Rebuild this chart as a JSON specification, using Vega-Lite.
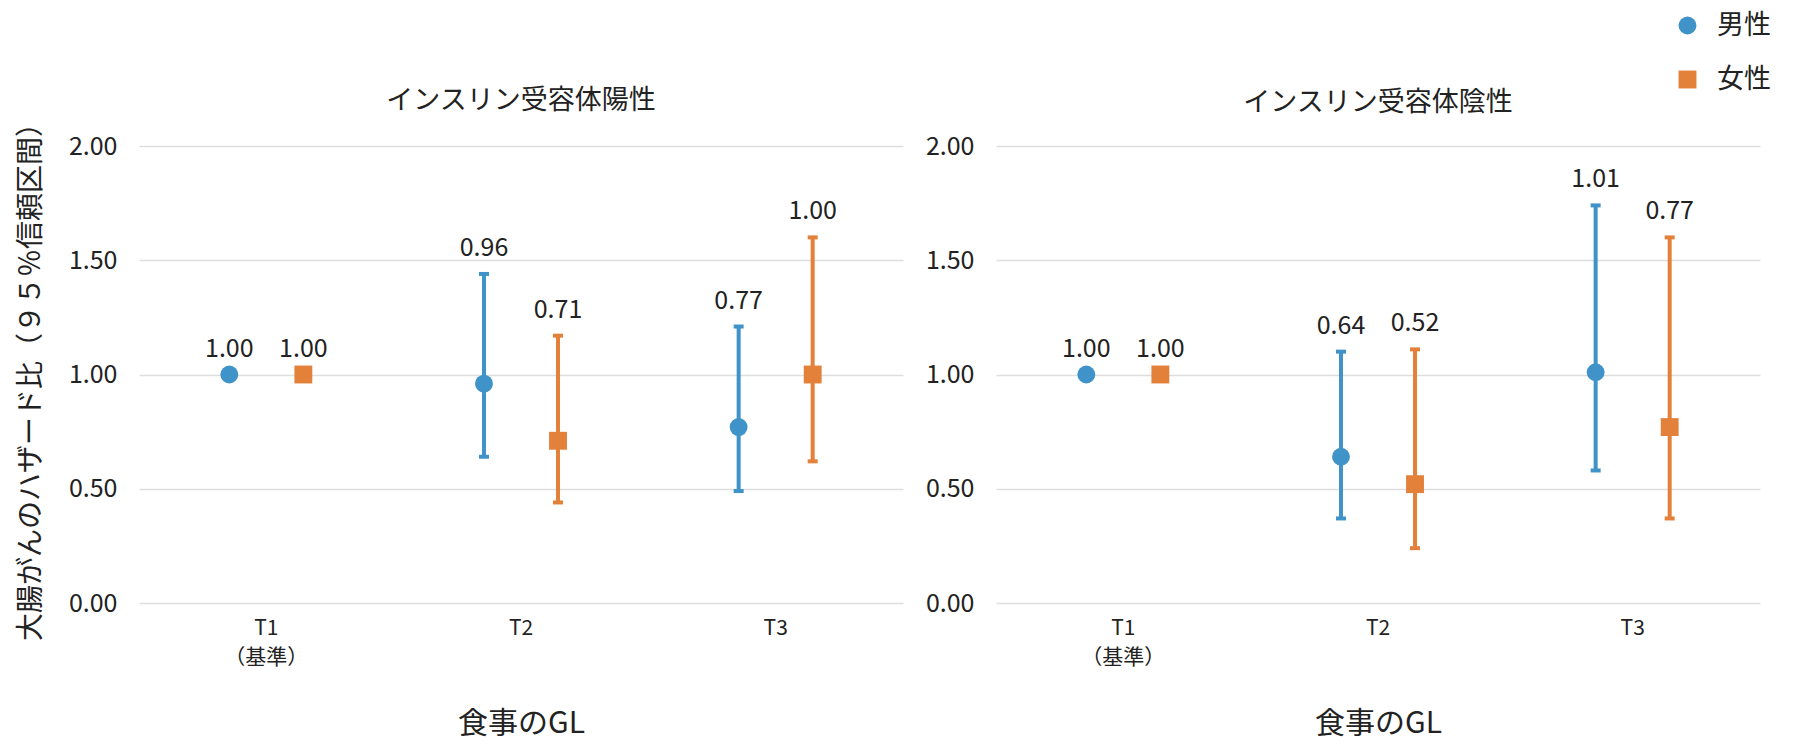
{
  "$schema": "https://vega.github.io/schema/vega-lite/v6.json",
  "padding": {"left": 17, "top": 12, "right": 5, "bottom": 5},
  "config": {
    "font": "Noto Sans CJK JP",
    "view": {"stroke": null},
    "axis": {
      "labelColor": "#222222",
      "titleColor": "#222222",
      "titleFontWeight": "normal",
      "domain": false,
      "ticks": false,
      "tickSize": 0,
      "gridColor": "#dedede",
      "gridWidth": 1.5
    },
    "axisX": {"grid": false, "labelAngle": 0, "labelFontSize": 21, "labelLineHeight": 29, "labelPadding": 14, "titleFontSize": 30, "titlePadding": 41},
    "axisY": {"labelFontSize": 25, "labelPadding": 22, "titleFontSize": 28, "titlePadding": 23},
    "title": {"fontSize": 27, "fontWeight": "normal", "color": "#222222", "frame": "group"},
    "legend": {"labelFontSize": 27, "labelColor": "#222222", "symbolSize": 320, "rowPadding": 26, "labelOffset": 16, "symbolStrokeWidth": 0, "symbolOpacity": 1},
    "concat": {"spacing": 22}
  },
  "data": {
    "values": [
      {"panel": "陽性", "tertile": "T1", "sex": "男性", "hr": 1.00, "lower": 1.00, "upper": 1.00},
      {"panel": "陽性", "tertile": "T1", "sex": "女性", "hr": 1.00, "lower": 1.00, "upper": 1.00},
      {"panel": "陽性", "tertile": "T2", "sex": "男性", "hr": 0.96, "lower": 0.64, "upper": 1.44},
      {"panel": "陽性", "tertile": "T2", "sex": "女性", "hr": 0.71, "lower": 0.44, "upper": 1.17},
      {"panel": "陽性", "tertile": "T3", "sex": "男性", "hr": 0.77, "lower": 0.49, "upper": 1.21},
      {"panel": "陽性", "tertile": "T3", "sex": "女性", "hr": 1.00, "lower": 0.62, "upper": 1.60},
      {"panel": "陰性", "tertile": "T1", "sex": "男性", "hr": 1.00, "lower": 1.00, "upper": 1.00},
      {"panel": "陰性", "tertile": "T1", "sex": "女性", "hr": 1.00, "lower": 1.00, "upper": 1.00},
      {"panel": "陰性", "tertile": "T2", "sex": "男性", "hr": 0.64, "lower": 0.37, "upper": 1.10},
      {"panel": "陰性", "tertile": "T2", "sex": "女性", "hr": 0.52, "lower": 0.24, "upper": 1.11},
      {"panel": "陰性", "tertile": "T3", "sex": "男性", "hr": 1.01, "lower": 0.58, "upper": 1.74},
      {"panel": "陰性", "tertile": "T3", "sex": "女性", "hr": 0.77, "lower": 0.37, "upper": 1.60}
    ]
  },
  "hconcat": [
    {
      "title": {"text": "インスリン受容体陽性", "offset": -7},
      "width": 764,
      "height": 457,
      "transform": [{"filter": "datum.panel == '陽性'"}],
      "encoding": {
        "x": {"field": "tertile", "type": "nominal", "sort": ["T1", "T2", "T3"], "scale": {"paddingInner": 0, "paddingOuter": 0}, "axis": {"title": "食事のGL", "labelExpr": "datum.value == 'T1' ? ['T1', '（基準）'] : datum.value"}},
        "xOffset": {"field": "sex", "type": "nominal", "sort": ["男性", "女性"], "scale": {"paddingInner": 0, "paddingOuter": 0.72}},
        "color": {"field": "sex", "type": "nominal", "scale": {"domain": ["男性", "女性"], "range": ["#3F93C8", "#E3813B"]}, "legend": {"title": null, "orient": "none", "legendX": 1535, "legendY": -134}}
      },
      "layer": [
        {"mark": {"type": "rule", "strokeWidth": 4, "opacity": 1}, "encoding": {"y": {"field": "lower", "type": "quantitative", "title": "大腸がんのハザード比（９５％信頼区間）", "scale": {"domain": [0, 2]}, "axis": {"values": [0, 0.5, 1, 1.5, 2], "format": ".2f"}}, "y2": {"field": "upper"}}},
        {"mark": {"type": "tick", "thickness": 4, "size": 10, "orient": "horizontal", "opacity": 1}, "encoding": {"y": {"field": "upper", "type": "quantitative", "title": "大腸がんのハザード比（９５％信頼区間）", "axis": {"values": [0, 0.5, 1, 1.5, 2], "format": ".2f"}}}},
        {"mark": {"type": "tick", "thickness": 4, "size": 10, "orient": "horizontal", "opacity": 1}, "encoding": {"y": {"field": "lower", "type": "quantitative", "title": "大腸がんのハザード比（９５％信頼区間）", "axis": {"values": [0, 0.5, 1, 1.5, 2], "format": ".2f"}}}},
        {"mark": {"type": "point", "filled": true, "size": 320, "opacity": 1}, "encoding": {"y": {"field": "hr", "type": "quantitative", "title": "大腸がんのハザード比（９５％信頼区間）", "axis": {"values": [0, 0.5, 1, 1.5, 2], "format": ".2f"}}, "shape": {"field": "sex", "type": "nominal", "scale": {"domain": ["男性", "女性"], "range": ["circle", "square"]}, "legend": {"title": null, "orient": "none", "legendX": 1535, "legendY": -134}}}},
        {"mark": {"type": "text", "dy": -18, "baseline": "alphabetic", "fontSize": 25, "color": "#222222"}, "encoding": {"y": {"field": "upper", "type": "quantitative", "title": "大腸がんのハザード比（９５％信頼区間）", "axis": {"values": [0, 0.5, 1, 1.5, 2], "format": ".2f"}}, "text": {"field": "hr", "type": "quantitative", "format": ".2f"}, "color": {"value": "#222222"}}}
      ]
    },
    {
      "title": {"text": "インスリン受容体陰性", "offset": 17},
      "width": 764,
      "height": 457,
      "transform": [{"filter": "datum.panel == '陰性'"}],
      "encoding": {
        "x": {"field": "tertile", "type": "nominal", "sort": ["T1", "T2", "T3"], "scale": {"paddingInner": 0, "paddingOuter": 0}, "axis": {"title": "食事のGL", "labelExpr": "datum.value == 'T1' ? ['T1', '（基準）'] : datum.value"}},
        "xOffset": {"field": "sex", "type": "nominal", "sort": ["男性", "女性"], "scale": {"paddingInner": 0, "paddingOuter": 0.72}},
        "color": {"field": "sex", "type": "nominal", "scale": {"domain": ["男性", "女性"], "range": ["#3F93C8", "#E3813B"]}, "legend": {"title": null, "orient": "none", "legendX": 1535, "legendY": -134}}
      },
      "layer": [
        {"mark": {"type": "rule", "strokeWidth": 4, "opacity": 1}, "encoding": {"y": {"field": "lower", "type": "quantitative", "title": null, "scale": {"domain": [0, 2]}, "axis": {"values": [0, 0.5, 1, 1.5, 2], "format": ".2f"}}, "y2": {"field": "upper"}}},
        {"mark": {"type": "tick", "thickness": 4, "size": 10, "orient": "horizontal", "opacity": 1}, "encoding": {"y": {"field": "upper", "type": "quantitative", "title": null, "axis": {"values": [0, 0.5, 1, 1.5, 2], "format": ".2f"}}}},
        {"mark": {"type": "tick", "thickness": 4, "size": 10, "orient": "horizontal", "opacity": 1}, "encoding": {"y": {"field": "lower", "type": "quantitative", "title": null, "axis": {"values": [0, 0.5, 1, 1.5, 2], "format": ".2f"}}}},
        {"mark": {"type": "point", "filled": true, "size": 320, "opacity": 1}, "encoding": {"y": {"field": "hr", "type": "quantitative", "title": null, "axis": {"values": [0, 0.5, 1, 1.5, 2], "format": ".2f"}}, "shape": {"field": "sex", "type": "nominal", "scale": {"domain": ["男性", "女性"], "range": ["circle", "square"]}, "legend": {"title": null, "orient": "none", "legendX": 1535, "legendY": -134}}}},
        {"mark": {"type": "text", "dy": -18, "baseline": "alphabetic", "fontSize": 25, "color": "#222222"}, "encoding": {"y": {"field": "upper", "type": "quantitative", "title": null, "axis": {"values": [0, 0.5, 1, 1.5, 2], "format": ".2f"}}, "text": {"field": "hr", "type": "quantitative", "format": ".2f"}, "color": {"value": "#222222"}}}
      ]
    }
  ],
  "resolve": {"scale": {"color": "shared", "shape": "shared"}}
}
